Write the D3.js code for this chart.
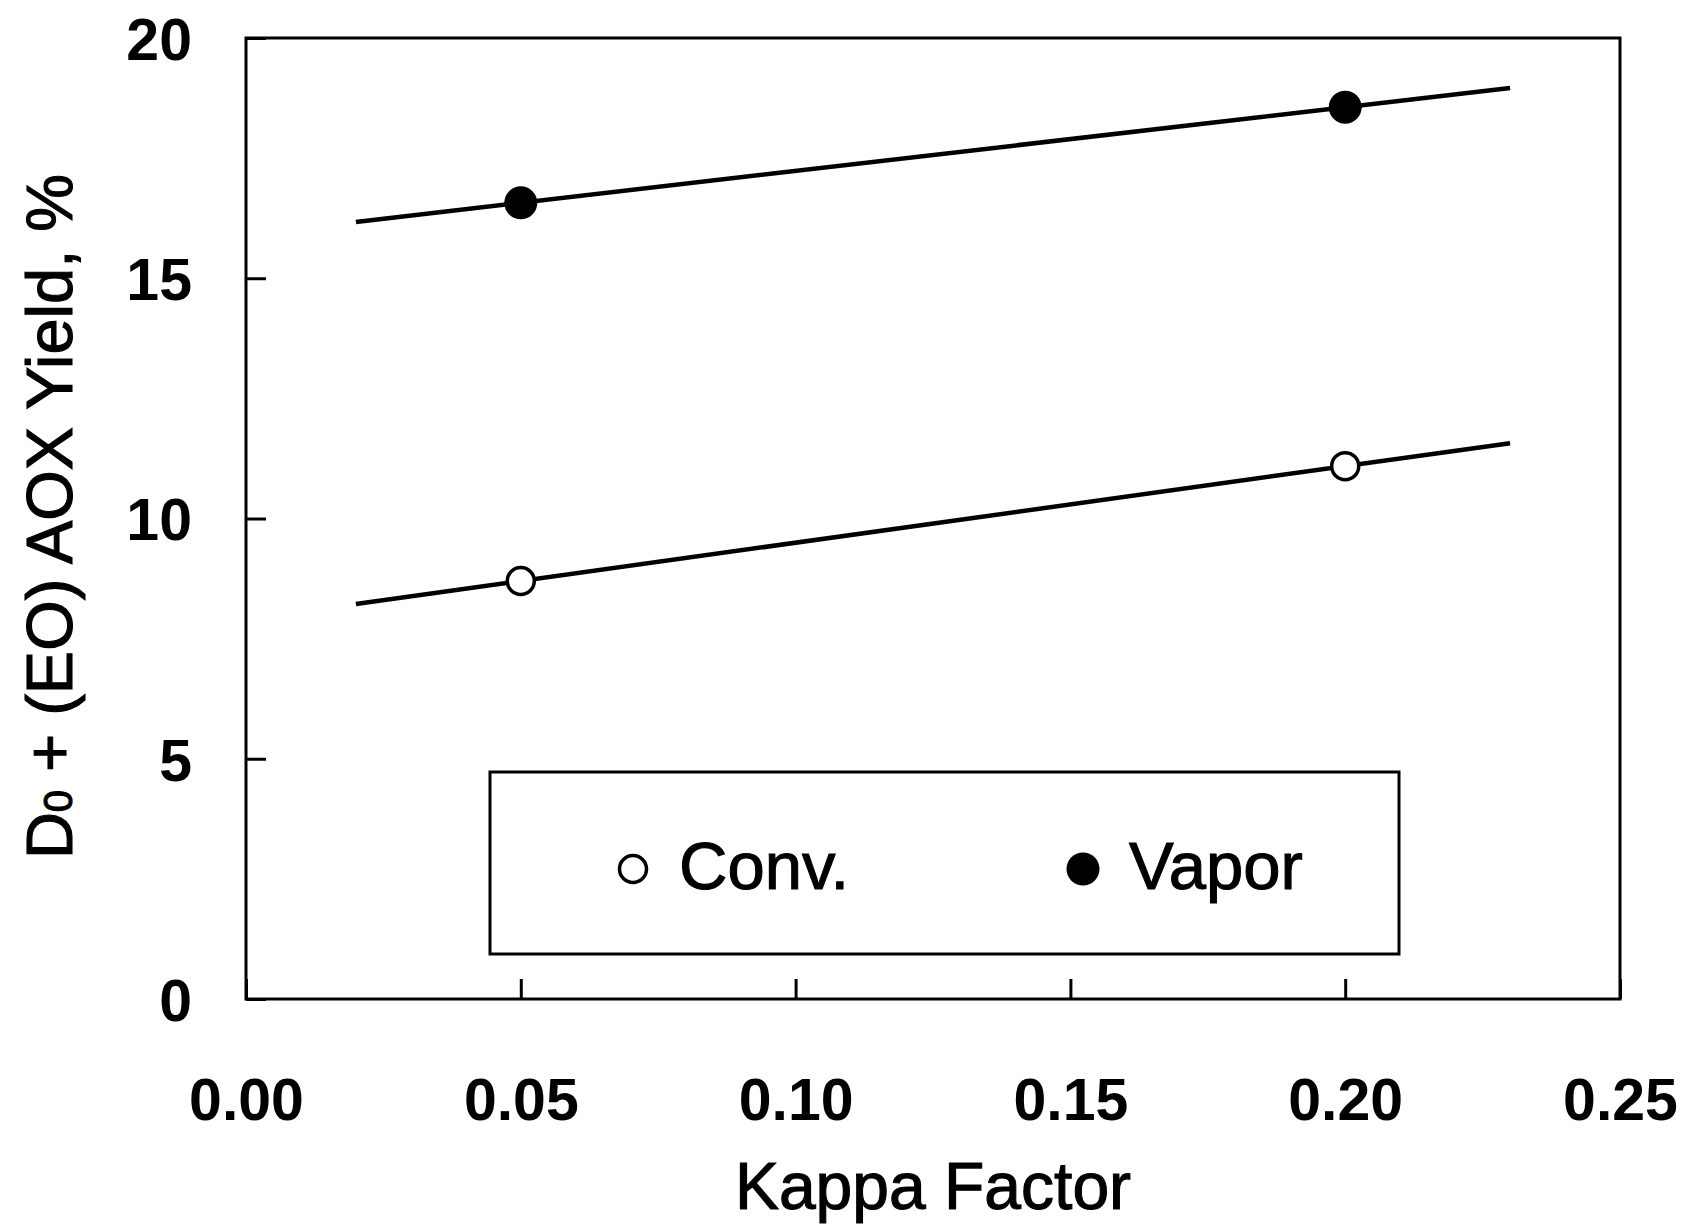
<!DOCTYPE html>
<head>
  <meta charset="utf-8">
  <style>
    body { margin: 0; background: #fff; }
    svg text { font-family: Arial, "Liberation Sans", sans-serif; fill: #000; }
    svg text.title { stroke: #000; stroke-width: 1.1px; }
    svg .tick text { font-size: 59px; font-weight: bold; }
    svg .tick line { stroke: #000; stroke-width: 3px; }
    svg .domain { display: none; }
  </style>
</head>
<body>
<script src="https://cdn.jsdelivr.net/npm/d3@7"></script>
<script>
  // data
  var kappa = [0.05, 0.20];
  var conv  = [8.70, 11.09];
  var vapor = [16.57, 18.56];
  var fitRange = [0.02, 0.23];   // fitted lines are drawn over this kappa range

  var xTicks = [0.00, 0.05, 0.10, 0.15, 0.20, 0.25];
  var yTicks = [0, 5, 10, 15, 20];

  var W = 1690, H = 1225;
  var plot = { left: 246, right: 1620, top: 38, bottom: 999 };

  var svg = d3.select("body").append("svg")
      .attr("width", W)
      .attr("height", H);

  var x = d3.scaleLinear().domain([0, 0.25]).range([plot.left, plot.right]);
  var y = d3.scaleLinear().domain([0, 20]).range([plot.bottom, plot.top]);

  // axes with ticks pointing inwards
  svg.append("g")
      .attr("transform", "translate(0," + plot.bottom + ")")
      .call(d3.axisBottom(x).tickValues(xTicks).tickFormat(d3.format(".2f"))
        .tickSize(-20).tickPadding(79));

  svg.append("g")
      .attr("transform", "translate(" + plot.left + ",0)")
      .call(d3.axisLeft(y).tickValues(yTicks).tickFormat(d3.format("d"))
        .tickSize(-20).tickPadding(54))
    .selectAll(".tick text")
      .attr("dy", "0.36em");

  // plot frame
  svg.append("rect")
      .attr("x", plot.left)
      .attr("y", plot.top)
      .attr("width", plot.right - plot.left)
      .attr("height", plot.bottom - plot.top)
      .style("fill", "none")
      .style("stroke", "#000")
      .style("stroke-width", "3px");

  // least squares line through a series
  function fit(xs, ys) {
    var mx = d3.mean(xs), my = d3.mean(ys);
    var sxy = d3.sum(xs, function (d, i) { return (d - mx) * (ys[i] - my); });
    var sxx = d3.sum(xs, function (d) { return (d - mx) * (d - mx); });
    var b = sxy / sxx, a = my - b * mx;
    return fitRange.map(function (k) { return [k, a + b * k]; });
  }

  var line = d3.line()
      .x(function (d) { return x(d[0]); })
      .y(function (d) { return y(d[1]); });

  var series = [
    { name: "Conv.", values: conv, filled: false },
    { name: "Vapor", values: vapor, filled: true }
  ];

  series.forEach(function (s) {
    svg.append("path")
        .attr("d", line(fit(kappa, s.values)))
        .style("fill", "none")
        .style("stroke", "#000")
        .style("stroke-width", "4.5px");
  });

  function marker(sel, filled) {
    return sel
        .attr("r", filled ? 16.5 : 13.5)
        .style("fill", filled ? "#000" : "#fff")
        .style("stroke", "#000")
        .style("stroke-width", filled ? "0px" : "3.5px");
  }

  series.forEach(function (s) {
    svg.selectAll(null)
        .data(s.values)
      .enter().append("circle")
        .attr("cx", function (d, i) { return x(kappa[i]); })
        .attr("cy", function (d) { return y(d); })
        .call(marker, s.filled);
  });

  // legend
  var legend = svg.append("g");
  legend.append("rect")
      .attr("x", 490).attr("y", 772)
      .attr("width", 909).attr("height", 182)
      .style("fill", "#fff")
      .style("stroke", "#000")
      .style("stroke-width", "3px");

  var items = legend.selectAll("g.item")
      .data(series)
    .enter().append("g")
      .attr("transform", function (d, i) { return "translate(" + (633 + i * 450) + ",869)"; });

  items.append("circle").each(function (d) { marker(d3.select(this), d.filled); });

  items.append("text")
      .attr("class", "title")
      .attr("x", 46)
      .attr("y", 20)
      .style("font-size", "67px")
      .text(function (d) { return d.name; });

  // axis titles
  svg.append("text")
      .attr("class", "title")
      .attr("x", (plot.left + plot.right) / 2)
      .attr("y", 1209)
      .style("text-anchor", "middle")
      .style("font-size", "66px")
      .text("Kappa Factor");

  var yt = svg.append("text")
      .attr("class", "title")
      .attr("transform", "translate(72," + ((plot.top + plot.bottom) / 2 - 2) + ") rotate(-90)")
      .style("text-anchor", "middle")
      .style("font-size", "65px");
  yt.append("tspan").text("D");
  yt.append("tspan").style("font-size", "40px").text("0");
  yt.append("tspan").text(" + (EO) AOX Yield, %");
</script>
</body>
</html>
